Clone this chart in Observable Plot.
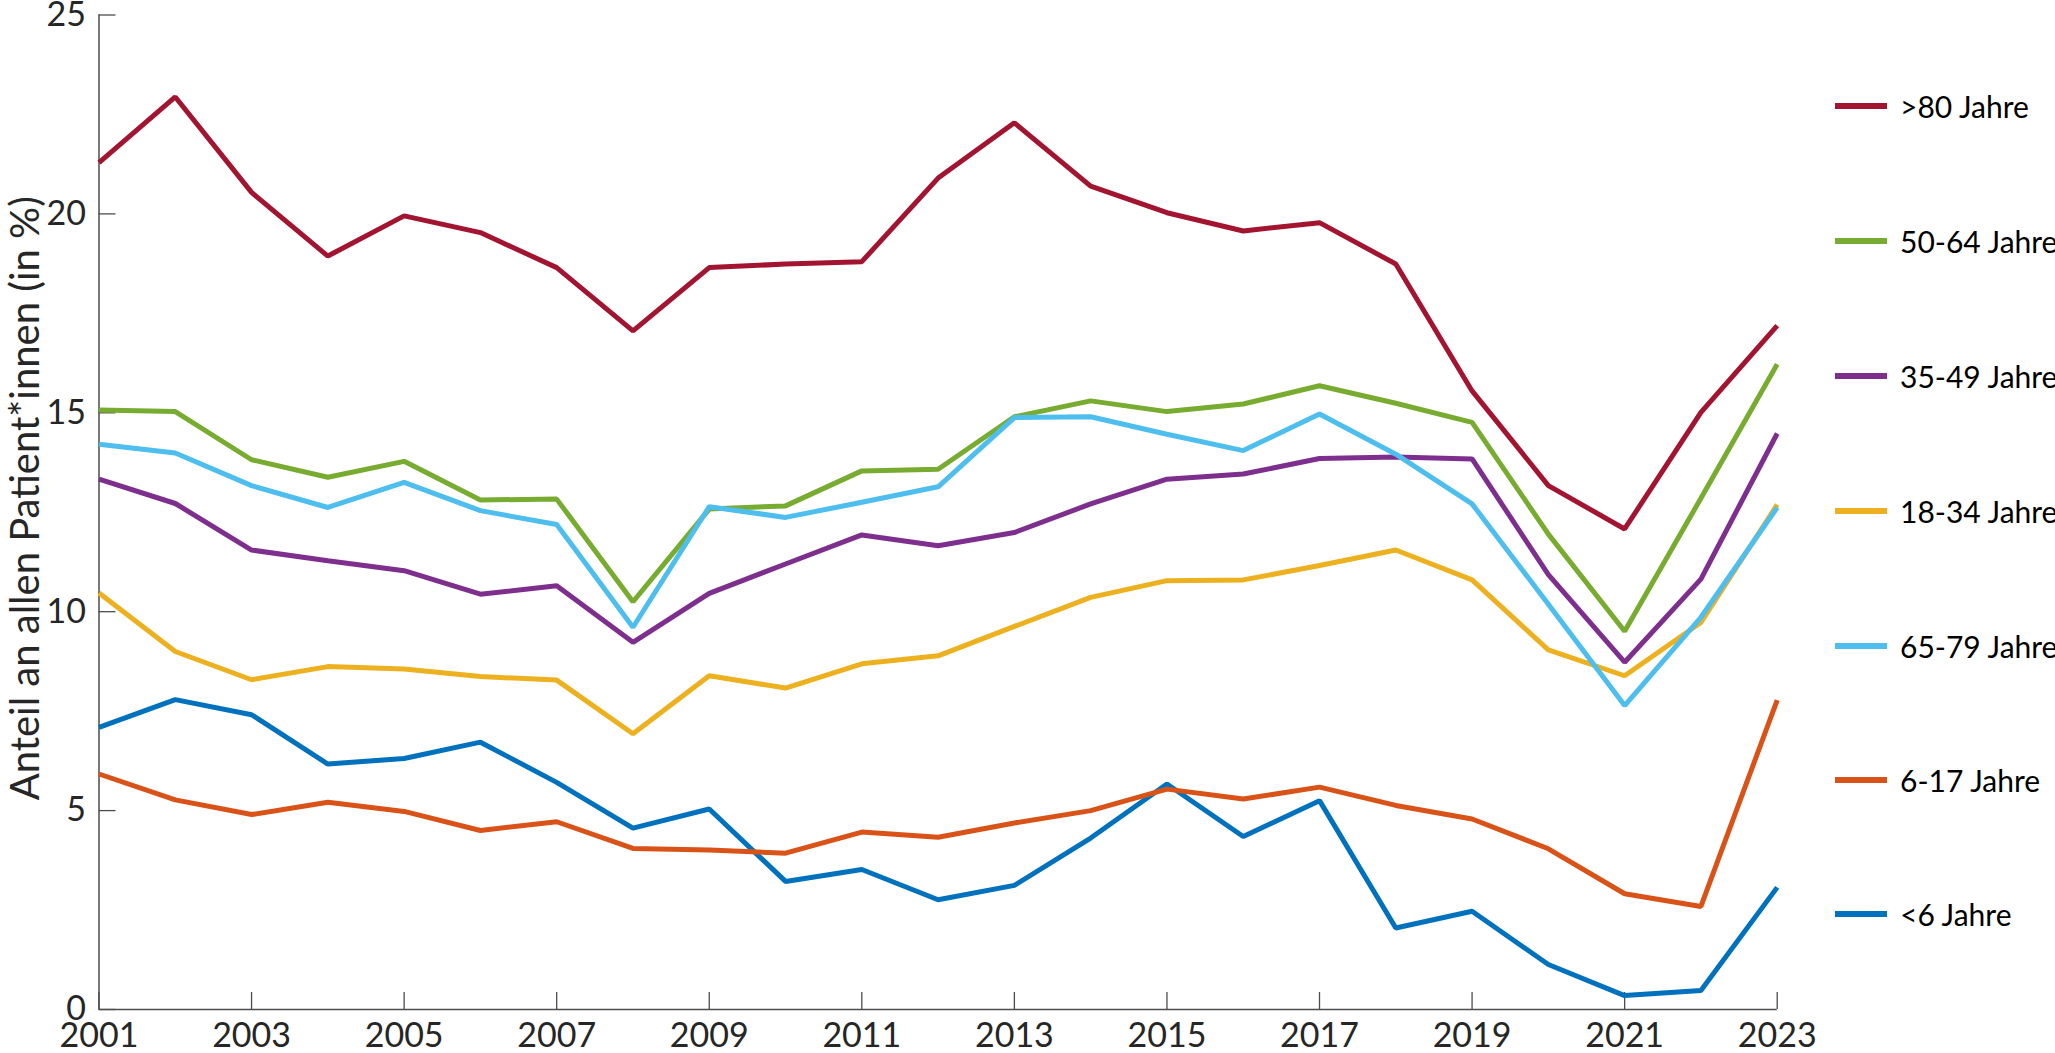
<!DOCTYPE html>
<html><head><meta charset="utf-8">
<script src="https://cdn.jsdelivr.net/npm/d3@7"></script>
<script src="https://cdn.jsdelivr.net/npm/@observablehq/plot@0.6"></script>
<style>
html,body{margin:0;padding:0;background:#fff;}
#wrap{position:relative;width:2055px;height:1053px;font-family:Lato,sans-serif;}
.leg{position:absolute;left:1835px;height:40px;display:flex;align-items:center;font-size:30px;color:#000;white-space:nowrap;}
.leg .sw{width:52px;height:6px;margin-right:13px;}
</style></head><body><div id="wrap"></div>
<script>
const years = [2001,2002,2003,2004,2005,2006,2007,2008,2009,2010,2011,2012,2013,2014,2015,2016,2017,2018,2019,2020,2021,2022,2023];
const groups = ["<6 Jahre","6-17 Jahre","18-34 Jahre","35-49 Jahre","50-64 Jahre","65-79 Jahre",">80 Jahre"];
const colors = ["#0072BD","#D95319","#EDB120","#7E2F8E","#77AC30","#4DBEEE","#A2142F"];
const lt6   = [7.09,7.79,7.41,6.17,6.31,6.72,5.71,4.56,5.04,3.22,3.52,2.76,3.12,4.31,5.67,4.35,5.25,2.05,2.47,1.13,0.35,0.48,3.07];
const a6_17 = [5.92,5.27,4.90,5.21,4.98,4.50,4.72,4.05,4.01,3.93,4.46,4.33,4.69,5.00,5.54,5.29,5.59,5.13,4.79,4.04,2.91,2.59,7.78];
const a18_34= [10.47,9.00,8.29,8.62,8.56,8.37,8.28,6.93,8.39,8.08,8.69,8.89,9.63,10.36,10.78,10.80,11.16,11.55,10.80,9.04,8.39,9.73,12.69];
const a35_49= [13.33,12.72,11.55,11.28,11.03,10.44,10.65,9.23,10.46,11.20,11.93,11.66,11.99,12.71,13.33,13.46,13.85,13.89,13.84,10.93,8.73,10.82,14.48];
const a50_64= [15.07,15.03,13.82,13.38,13.78,12.81,12.83,10.25,12.58,12.66,13.54,13.58,14.90,15.30,15.03,15.22,15.68,15.24,14.76,11.95,9.51,12.85,16.22];
const a65_79= [14.21,13.99,13.17,12.62,13.25,12.54,12.19,9.61,12.64,12.37,12.75,13.14,14.88,14.90,14.46,14.05,14.97,13.96,12.71,10.19,7.64,9.86,12.62];
const gt80  = [21.29,22.94,20.54,18.94,19.95,19.53,18.65,17.06,18.65,18.74,18.80,20.90,22.29,20.70,20.03,19.57,19.78,18.74,15.55,13.17,12.08,15.01,17.19];
const legendOrder = [">80 Jahre","50-64 Jahre","35-49 Jahre","18-34 Jahre","65-79 Jahre","6-17 Jahre","<6 Jahre"];
const xTicks = [2001,2003,2005,2007,2009,2011,2013,2015,2017,2019,2021,2023];
const yTicks = [0,5,10,15,20,25];
const yTitle = "Anteil an allen Patient*innen (in %)";

const series = [lt6, a6_17, a18_34, a35_49, a50_64, a65_79, gt80];
const rows = [];
series.forEach((vals, gi) => vals.forEach((v, i) => rows.push({year: years[i], value: v, group: groups[gi]})));

const axisColor = "#4d4d4d";
const chart = Plot.plot({
  width: 2055, height: 1053,
  marginLeft: 98.5, marginRight: 278.3, marginTop: 14.5, marginBottom: 44,
  style: {fontFamily: "Lato, sans-serif", fontSize: "34px", color: "#262626", background: "white"},
  x: {domain: [2001, 2023]},
  y: {domain: [0, 25]},
  color: {domain: groups, range: colors},
  marks: [
    Plot.axisX({ticks: xTicks, tickSize: -17, tickPadding: 30, tickFormat: "d", label: null, stroke: axisColor, strokeWidth: 1.3}),
    Plot.axisY({ticks: yTicks, tickSize: -17, tickPadding: 30, label: null, stroke: axisColor, strokeWidth: 1.3}),
    Plot.ruleX([2001], {stroke: axisColor, strokeWidth: 1.5}),
    Plot.ruleY([0], {stroke: axisColor, strokeWidth: 1.5}),
    Plot.line(rows, {x: "year", y: "value", z: "group", stroke: "group", strokeWidth: 5, strokeLinejoin: "miter", strokeLinecap: "butt"}),
    Plot.text([yTitle], {frameAnchor: "left", textAnchor: "middle", lineAnchor: "middle", rotate: -90, dx: -72.5, dy: -14, fontSize: 40, fill: "#262626"})
  ]
});
const wrap = document.getElementById("wrap");
wrap.appendChild(chart);
const legendY = [106, 241, 376, 511, 646, 780, 914];
legendOrder.forEach((g, i) => {
  const d = document.createElement("div");
  d.className = "leg";
  d.style.top = (legendY[i] - 20) + "px";
  const sw = document.createElement("span");
  sw.className = "sw";
  sw.style.background = colors[groups.indexOf(g)];
  const t = document.createElement("span");
  t.textContent = g;
  d.appendChild(sw); d.appendChild(t);
  wrap.appendChild(d);
});
</script>
</body></html>
